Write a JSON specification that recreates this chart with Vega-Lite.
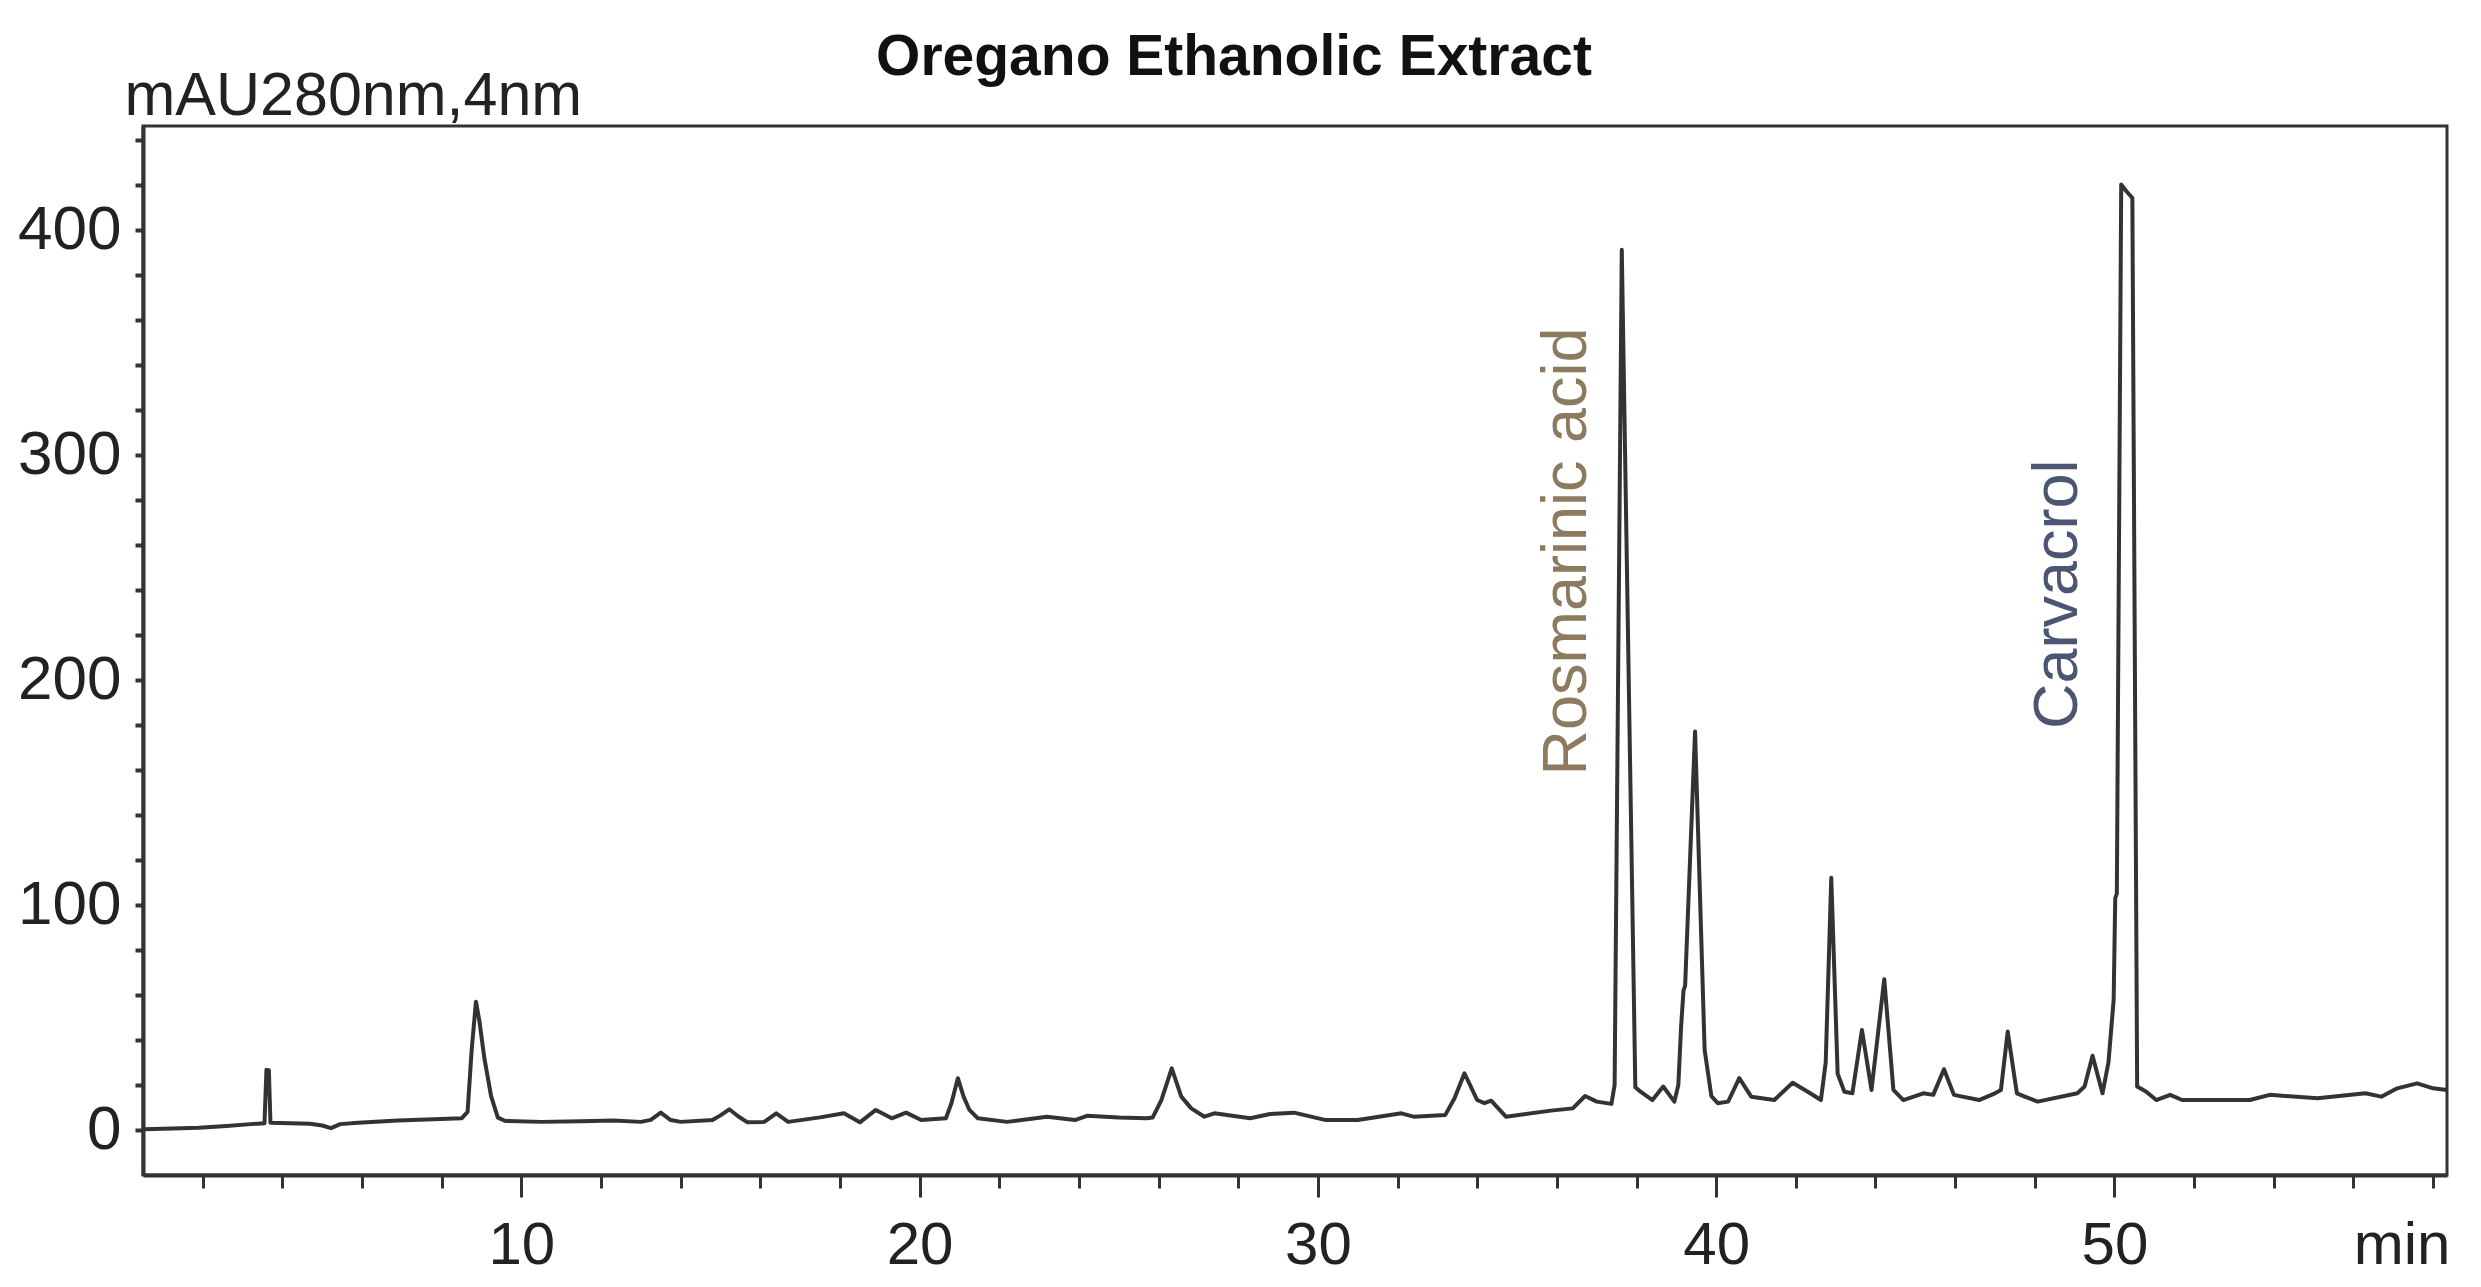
{
  "$schema": "https://vega.github.io/schema/vega-lite/v6.json",
  "width": 2304,
  "height": 1049,
  "autosize": {"type": "none"},
  "padding": {"left": 143, "top": 126, "right": 34, "bottom": 112},
  "background": "white",
  "config": {
    "view": {"stroke": "#333333", "strokeWidth": 3},
    "font": "Liberation Sans, sans-serif"
  },
  "title": {
    "text": "Oregano Ethanolic Extract",
    "font": "Liberation Sans, sans-serif",
    "fontSize": 57,
    "fontWeight": "bold",
    "color": "#111111",
    "anchor": "middle",
    "frame": "group",
    "baseline": "alphabetic",
    "offset": 0,
    "dx": -61,
    "dy": 67
  },
  "datasets": {
    "chrom": [
      {"t": 0.5, "v": 0.3}, {"t": 1.0, "v": 0.5}, {"t": 1.9, "v": 1.0}, {"t": 2.6, "v": 1.8},
      {"t": 3.2, "v": 2.6}, {"t": 3.55, "v": 3.0}, {"t": 3.6, "v": 26.7}, {"t": 3.66, "v": 26.5},
      {"t": 3.7, "v": 3.2}, {"t": 4.2, "v": 3.0}, {"t": 4.7, "v": 2.8}, {"t": 5.0, "v": 2.0},
      {"t": 5.22, "v": 0.8}, {"t": 5.45, "v": 2.6}, {"t": 5.9, "v": 3.2}, {"t": 6.9, "v": 4.2},
      {"t": 7.8, "v": 4.8}, {"t": 8.5, "v": 5.2}, {"t": 8.65, "v": 8}, {"t": 8.75, "v": 35},
      {"t": 8.86, "v": 57}, {"t": 8.95, "v": 48}, {"t": 9.07, "v": 32}, {"t": 9.24, "v": 15},
      {"t": 9.41, "v": 5.5}, {"t": 9.6, "v": 4}, {"t": 10.5, "v": 3.6}, {"t": 11.5, "v": 3.9},
      {"t": 12.3, "v": 4.2}, {"t": 13.0, "v": 3.6}, {"t": 13.25, "v": 4.5}, {"t": 13.5, "v": 7.7},
      {"t": 13.75, "v": 4.4}, {"t": 14.0, "v": 3.6}, {"t": 14.8, "v": 4.4}, {"t": 15.0, "v": 6.5},
      {"t": 15.22, "v": 9.2}, {"t": 15.45, "v": 6}, {"t": 15.68, "v": 3.4}, {"t": 16.1, "v": 3.6},
      {"t": 16.4, "v": 7.4}, {"t": 16.7, "v": 3.6}, {"t": 17.5, "v": 5.6}, {"t": 18.1, "v": 7.4},
      {"t": 18.5, "v": 3.4}, {"t": 18.9, "v": 8.9}, {"t": 19.3, "v": 5.2}, {"t": 19.66, "v": 7.7},
      {"t": 20.04, "v": 4.4}, {"t": 20.66, "v": 5.2}, {"t": 20.8, "v": 12}, {"t": 20.96, "v": 23},
      {"t": 21.1, "v": 15}, {"t": 21.25, "v": 8.9}, {"t": 21.46, "v": 5.2}, {"t": 22.2, "v": 3.6},
      {"t": 23.2, "v": 5.9}, {"t": 23.9, "v": 4.4}, {"t": 24.2, "v": 6.3}, {"t": 25.0, "v": 5.5},
      {"t": 25.7, "v": 5.2}, {"t": 25.85, "v": 5.5}, {"t": 26.07, "v": 13.3}, {"t": 26.33, "v": 27.4},
      {"t": 26.57, "v": 14.8}, {"t": 26.82, "v": 9.6}, {"t": 27.15, "v": 5.9}, {"t": 27.4, "v": 7.4},
      {"t": 28.3, "v": 5.2}, {"t": 28.8, "v": 7.1}, {"t": 29.4, "v": 7.7}, {"t": 30.2, "v": 4.4},
      {"t": 31.0, "v": 4.4}, {"t": 32.1, "v": 7.4}, {"t": 32.4, "v": 5.9}, {"t": 33.2, "v": 6.7},
      {"t": 33.43, "v": 14.1}, {"t": 33.68, "v": 25.2}, {"t": 34.0, "v": 13.3}, {"t": 34.18, "v": 11.9},
      {"t": 34.35, "v": 13}, {"t": 34.72, "v": 5.9}, {"t": 35.85, "v": 8.6}, {"t": 36.4, "v": 9.6},
      {"t": 36.71, "v": 15.1}, {"t": 37.0, "v": 12.6}, {"t": 37.37, "v": 11.6}, {"t": 37.45, "v": 20},
      {"t": 37.63, "v": 391}, {"t": 37.97, "v": 19}, {"t": 38.1, "v": 17}, {"t": 38.4, "v": 13.3},
      {"t": 38.67, "v": 19.3}, {"t": 38.95, "v": 12.6}, {"t": 39.05, "v": 20}, {"t": 39.12, "v": 46},
      {"t": 39.18, "v": 62}, {"t": 39.22, "v": 64}, {"t": 39.47, "v": 177}, {"t": 39.71, "v": 35.6},
      {"t": 39.88, "v": 15}, {"t": 40.04, "v": 11.9}, {"t": 40.3, "v": 12.6}, {"t": 40.58, "v": 23},
      {"t": 40.88, "v": 14.8}, {"t": 41.46, "v": 13.3}, {"t": 41.92, "v": 21}, {"t": 42.3, "v": 17},
      {"t": 42.63, "v": 13.3}, {"t": 42.75, "v": 30}, {"t": 42.89, "v": 112}, {"t": 43.05, "v": 25},
      {"t": 43.22, "v": 17}, {"t": 43.42, "v": 16.3}, {"t": 43.66, "v": 44.4}, {"t": 43.9, "v": 17.8},
      {"t": 44.22, "v": 67}, {"t": 44.45, "v": 17.8}, {"t": 44.7, "v": 13.3}, {"t": 45.2, "v": 16.3},
      {"t": 45.45, "v": 15.6}, {"t": 45.72, "v": 27}, {"t": 45.97, "v": 15.6}, {"t": 46.6, "v": 13.3},
      {"t": 47.0, "v": 16.3}, {"t": 47.15, "v": 17.8}, {"t": 47.32, "v": 43.7}, {"t": 47.55, "v": 16.3},
      {"t": 47.75, "v": 14.8}, {"t": 48.07, "v": 12.6}, {"t": 49.07, "v": 16.3}, {"t": 49.25, "v": 19.3},
      {"t": 49.45, "v": 33}, {"t": 49.7, "v": 16.3}, {"t": 49.85, "v": 30}, {"t": 49.98, "v": 57.8},
      {"t": 50.02, "v": 103}, {"t": 50.06, "v": 105}, {"t": 50.17, "v": 420}, {"t": 50.3, "v": 417},
      {"t": 50.45, "v": 414}, {"t": 50.57, "v": 19.3}, {"t": 50.8, "v": 17}, {"t": 51.05, "v": 13.3},
      {"t": 51.4, "v": 15.6}, {"t": 51.7, "v": 13.3}, {"t": 53.4, "v": 13.3}, {"t": 53.9, "v": 15.6},
      {"t": 55.1, "v": 14.1}, {"t": 56.3, "v": 16.3}, {"t": 56.7, "v": 14.8}, {"t": 57.1, "v": 18.5},
      {"t": 57.6, "v": 20.7}, {"t": 58.0, "v": 18.5}, {"t": 58.35, "v": 17.8}
    ],
    "notes": [
      {"t": 36.26, "v": 257, "label": "Rosmarinic acid"},
      {"t": 48.58, "v": 238, "label": "Carvacrol"}
    ]
  },
  "encoding": {
    "x": {
      "field": "t",
      "type": "quantitative",
      "scale": {"domain": [0.5, 58.35], "nice": false, "zero": false},
      "axis": {
        "title": "min",
        "values": [2, 4, 6, 8, 10, 12, 14, 16, 18, 20, 22, 24, 26, 28, 30, 32, 34, 36, 38, 40, 42, 44, 46, 48, 50, 52, 54, 56, 58],
        "labelExpr": "datum.value % 10 === 0 ? datum.label : ''",
        "tickSize": {"condition": {"test": "datum.value % 10 === 0", "value": 22}, "value": 13},
        "tickWidth": 3,
        "tickColor": "#333333",
        "domainColor": "#333333",
        "domainWidth": 4,
        "grid": false,
        "labelFont": "Liberation Sans, sans-serif",
        "labelFontSize": 60,
        "labelColor": "#222222",
        "labelBaseline": "alphabetic",
        "labelPadding": 66,
        "labelFlush": false,
        "labelOverlap": false,
        "titleFont": "Liberation Sans, sans-serif",
        "titleFontSize": 60,
        "titleFontWeight": "normal",
        "titleColor": "#222222",
        "titleAlign": "right",
        "titleBaseline": "alphabetic",
        "titleAnchor": "end",
        "titleX": 2307,
        "titleY": 88
      }
    },
    "y": {
      "field": "v",
      "type": "quantitative",
      "scale": {"domain": [-20, 446], "nice": false, "zero": false},
      "axis": {
        "title": "mAU280nm,4nm",
        "values": [0, 20, 40, 60, 80, 100, 120, 140, 160, 180, 200, 220, 240, 260, 280, 300, 320, 340, 360, 380, 400, 420, 440],
        "labelExpr": "datum.value % 100 === 0 ? datum.label : ''",
        "tickSize": 8,
        "tickWidth": 4,
        "tickColor": "#333333",
        "domainColor": "#333333",
        "domainWidth": 4,
        "grid": false,
        "labelFont": "Liberation Sans, sans-serif",
        "labelFontSize": 62,
        "labelColor": "#222222",
        "labelPadding": 14,
        "labelBaseline": "middle",
        "labelOverlap": false,
        "labelFlush": false,
        "titleFont": "Liberation Sans, sans-serif",
        "titleFontSize": 61,
        "titleFontWeight": "normal",
        "titleColor": "#222222",
        "titleAngle": 0,
        "titleAlign": "left",
        "titleBaseline": "alphabetic",
        "titleAnchor": "start",
        "titleX": -19,
        "titleY": -12
      }
    }
  },
  "layer": [
    {
      "data": {"name": "chrom"},
      "mark": {"type": "line", "color": "#333333", "strokeWidth": 4, "strokeJoin": "round"}
    },
    {
      "data": {"name": "notes"},
      "mark": {"type": "text", "angle": 270, "align": "center", "baseline": "middle", "fontSize": 63, "font": "Liberation Sans, sans-serif"},
      "encoding": {
        "text": {"field": "label"},
        "color": {"field": "label", "type": "nominal", "scale": {"domain": ["Rosmarinic acid", "Carvacrol"], "range": ["#8c7b5e", "#4a5672"]}, "legend": null}
      }
    }
  ]
}
